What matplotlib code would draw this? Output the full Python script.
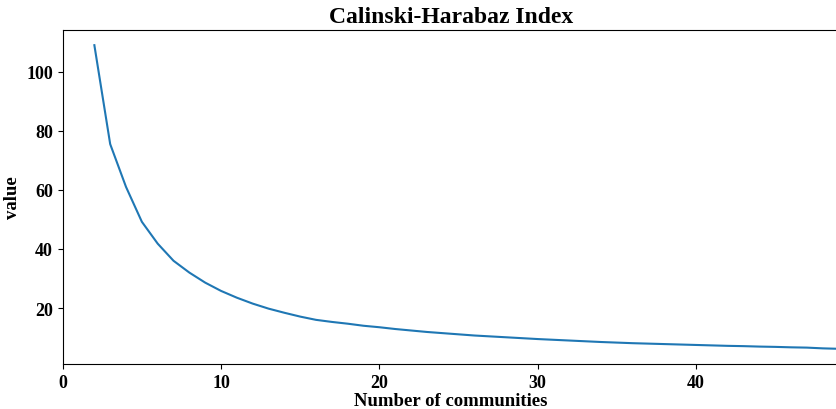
import matplotlib
matplotlib.use("Agg")
import matplotlib.pyplot as plt

# Calinski-Harabaz score per number of communities
n_communities = list(range(2, 50))
ch_index = [
    109.0, 75.5, 61.0, 49.2, 41.8, 36.0, 32.0, 28.6, 25.8, 23.5,
    21.5, 19.8, 18.4, 17.1, 16.0, 15.3, 14.7, 14.0, 13.5, 12.9,
    12.4, 11.9, 11.5, 11.1, 10.7, 10.4, 10.1, 9.8, 9.5, 9.25,
    9.0, 8.75, 8.5, 8.3, 8.1, 7.95, 7.8, 7.65, 7.5, 7.35,
    7.2, 7.1, 6.95, 6.85, 6.7, 6.6, 6.35, 6.2,
]

plt.rcParams["font.family"] = ["Liberation Serif", "DejaVu Serif"]
plt.rcParams["font.weight"] = "bold"

fig = plt.figure(figsize=(8.37, 4.10), dpi=100)
ax = fig.add_axes([0.0749, 0.1098, 0.927, 0.8146])

ax.plot(n_communities, ch_index, color="tab:blue", linewidth=1.5)

ax.set_xlim(0, 49)
ax.set_title("Calinski-Harabaz Index", fontsize=17, fontweight="bold")
ax.set_xlabel("Number of communities", fontsize=13.5, fontweight="bold", labelpad=1)
ax.set_ylabel("value", fontsize=13.5, fontweight="bold")
ax.tick_params(labelsize=13)
for lbl in ax.get_xticklabels() + ax.get_yticklabels():
    lbl.set_fontweight("bold")
ax.spines["right"].set_visible(False)

fig.savefig("out.png", dpi=100)
